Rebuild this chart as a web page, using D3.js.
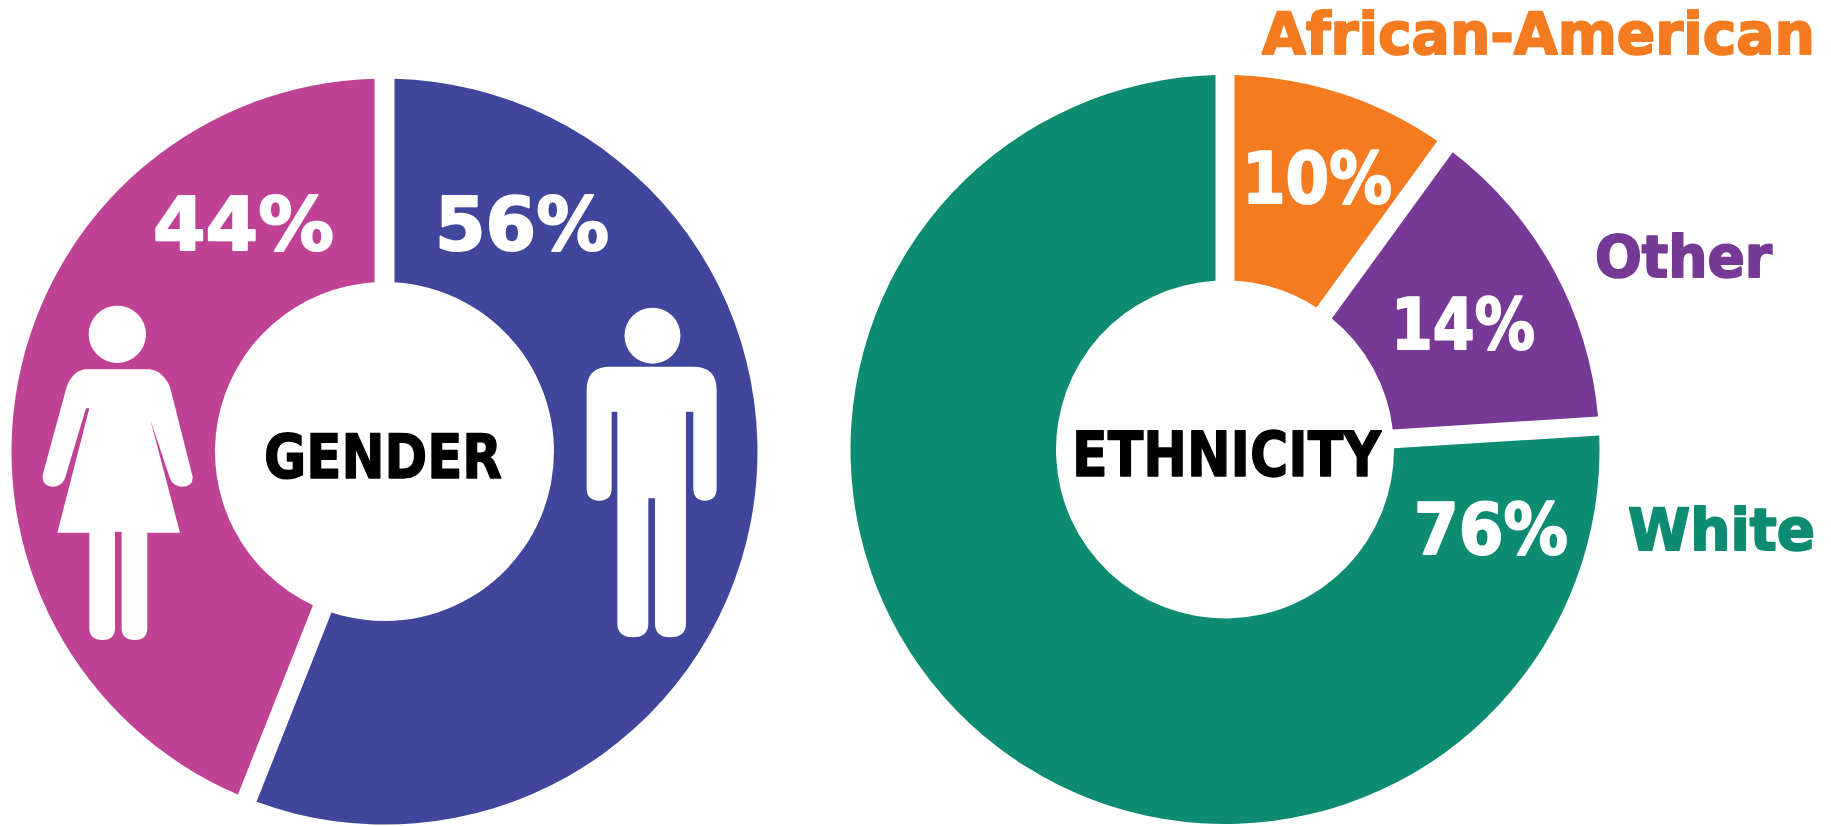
<!DOCTYPE html>
<html>
<head>
<meta charset="utf-8">
<script src="https://cdn.jsdelivr.net/npm/d3@7"></script>
<style>
  html, body { margin: 0; padding: 0; background: #fff; }
  svg { display: block; }
  text { font-family: "DejaVu Sans", sans-serif; font-weight: 700; stroke-linejoin: round; text-rendering: geometricPrecision; }
</style>
</head>
<body>
<script>
// chart values
const genderCategories = ["Men", "Women"];
const genderValues = [56, 44];
const genderLabels = ["56%", "44%"];
const genderColors = ["#3F469B", "#C04295"];

const ethnicityCategories = ["African-American", "Other", "White"];
const ethnicityValues = [10, 14, 76];
const ethnicityLabels = ["10%", "14%", "76%"];
const ethnicityColors = ["#F47B20", "#763A96", "#0D8C72"];

const width = 1831, height = 826;

const svg = d3.select("body").append("svg")
  .attr("width", width)
  .attr("height", height);

const pie = d3.pie().sort(null);

// draws one donut
function drawDonut(values, colors, cx, cy, outer, inner, gap) {
  const arc = d3.arc()
    .innerRadius(inner)
    .outerRadius(outer)
    .padRadius(100)
    .padAngle(gap / 100);
  const g = svg.append("g").attr("transform", `translate(${cx},${cy})`);
  g.selectAll("path")
    .data(pie(values))
    .enter().append("path")
    .attr("d", arc)
    .attr("fill", (d, i) => colors[i]);
  return g;
}

// text placed by its left edge and baseline, squeezed to the measured width;
// the stroke thickens the letters to the weight of the source lettering
function label(str, x, y, size, len, fill, weight) {
  const t = svg.append("text")
    .attr("font-size", size)
    .attr("fill", fill)
    .attr("stroke", fill)
    .attr("stroke-width", weight)
    .text(str);
  const k = len / t.node().getComputedTextLength();
  t.attr("transform", `translate(${x},${y}) scale(${k},1)`);
}

drawDonut(genderValues, genderColors, 384.5, 451.5, 373, 169.5, 20);
drawDonut(ethnicityValues, ethnicityColors, 1225, 449.5, 374.5, 169, 19);

label(genderLabels[1], 153, 250, 74, 181, "#fff", 2);
label(genderLabels[0], 435, 250, 74, 174, "#fff", 2);
label("GENDER", 264, 478, 61, 238, "#000", 1.5);

label(ethnicityLabels[0], 1242, 203, 71, 150, "#fff", 2);
label(ethnicityLabels[1], 1391, 349, 71, 144, "#fff", 2);
label(ethnicityLabels[2], 1414, 554, 71, 154, "#fff", 2);
label("ETHNICITY", 1072, 476, 62, 309, "#000", 1.5);

label(ethnicityCategories[0], 1262, 54, 58, 553, ethnicityColors[0], 2);
label(ethnicityCategories[1], 1595, 277, 58, 177, ethnicityColors[1], 2);
label(ethnicityCategories[2], 1628, 550, 58, 187, ethnicityColors[2], 2);

// woman and man pictograms, traced at 3x and scaled back down
const woman = svg.append("g").attr("transform", "translate(0,290) scale(0.3333)").attr("fill", "#fff");
woman.append("circle").attr("cx", 352).attr("cy", 133).attr("r", 86);
woman.append("path").attr("d",
  "M255 238 H450 Q488 244 510 290 L578 560 Q580 590 545 590 Q520 590 510 565 L438 350 " +
  "L442 355 L540 728 H442 V1015 Q442 1050 405 1050 Q365 1050 365 1015 V725 H345 V1015 " +
  "Q345 1050 308 1050 Q268 1050 268 1015 V728 H172 L268 355 L258 355 L195 565 " +
  "Q185 590 160 590 Q125 590 128 555 L200 290 Q218 244 255 238 Z");

const man = svg.append("g").attr("transform", "translate(560,290) scale(0.3333)").attr("fill", "#fff");
man.append("circle").attr("cx", 277.5).attr("cy", 137).attr("r", 84);
man.append("path").attr("d",
  "M150 230 H400 Q470 230 470 300 V595 Q470 632 435 632 Q400 632 400 595 V365 H378 V1000 " +
  "Q378 1042 330 1042 Q285 1042 285 1000 V625 H265 V1000 Q265 1042 220 1042 Q172 1042 172 1000 " +
  "V365 H155 V595 Q155 632 118 632 Q80 632 80 595 V300 Q80 230 150 230 Z");
</script>
</body>
</html>
